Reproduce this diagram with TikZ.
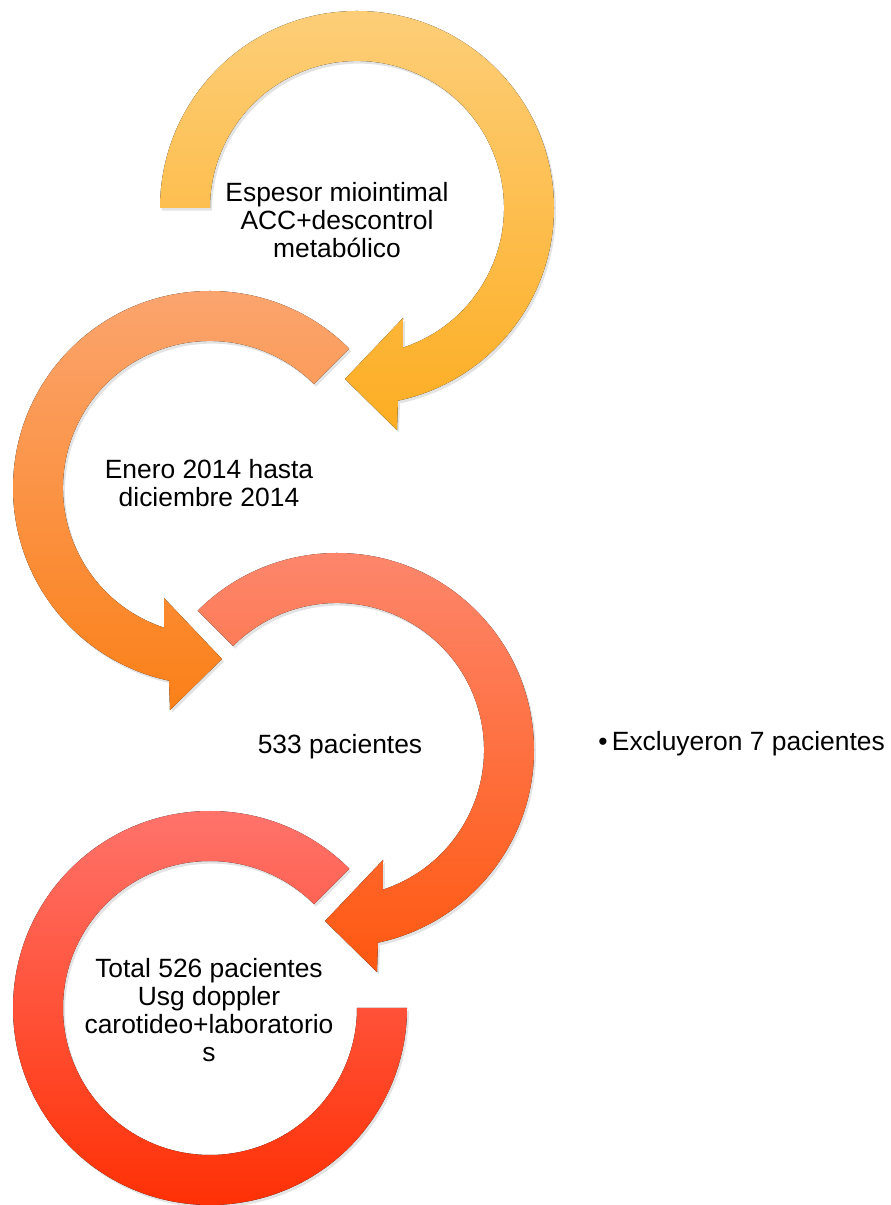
\documentclass[tikz,border=0pt]{standalone}
\usepackage{fontspec}
\setmainfont{Liberation Sans}
\usetikzlibrary{shadows}
\definecolor{aTop}{HTML}{FDCE78}
\definecolor{aBot}{HTML}{FDAD22}
\definecolor{bTop}{HTML}{FBA672}
\definecolor{bBot}{HTML}{FB8018}
\definecolor{cTop}{HTML}{FD8870}
\definecolor{cBot}{HTML}{FF5810}
\definecolor{dTop}{HTML}{FF7670}
\definecolor{dBot}{HTML}{FF2D00}
\begin{document}
\begin{tikzpicture}[x=0.75pt,y=0.75pt,
  lbl/.style={align=center, font=\fontsize{19.8}{21}\selectfont, inner sep=0pt, text=black},
  ring/.style={drop shadow={shadow xshift=1.5pt, shadow yshift=-2pt, opacity=0.22}}]
\useasboundingbox (0,0) rectangle (890,1205);
% ring 1
\begin{scope}[shift={(357,997)}]
\fill[ring, top color=aTop, bottom color=aBot] (180:197) arc[start angle=180,end angle=-78,radius=197]
  -- (40,-222) -- (-12,-171) -- (46,-110) -- (-71.8:147)
  arc[start angle=-71.8,end angle=180,radius=147] -- cycle;
\end{scope}
% ring 2 (mirrored)
\begin{scope}[shift={(210,717)}, xscale=-1]
\fill[ring, top color=bTop, bottom color=bBot] (135:197) arc[start angle=135,end angle=-78,radius=197]
  -- (40,-222) -- (-12,-171) -- (46,-110) -- (-71.8:147)
  arc[start angle=-71.8,end angle=135,radius=147] -- cycle;
\end{scope}
% ring 3
\begin{scope}[shift={(337,455)}]
\fill[ring, top color=cTop, bottom color=cBot] (135:197) arc[start angle=135,end angle=-78,radius=197]
  -- (40,-222) -- (-12,-171) -- (46,-110) -- (-71.8:147)
  arc[start angle=-71.8,end angle=135,radius=147] -- cycle;
\end{scope}
% ring 4
\begin{scope}[shift={(210,197)}]
\fill[ring, top color=dTop, bottom color=dBot] (45:197) arc[start angle=45,end angle=360,radius=197]
  -- (0:147) arc[start angle=360,end angle=45,radius=147] -- cycle;
\end{scope}
% texts
\node[lbl] (t1) at (337,985) {Espesor miointimal\\ACC+descontrol\\metabólico};
\node[lbl] (t2) at (209,722) {Enero 2014 hasta\\diciembre 2014};
\node[lbl] (t3) at (340,458) {533 pacientes};
\node[lbl] (t4) at (209,195) {Total 526 pacientes\\Usg doppler\\carotideo+laboratorio\\s};
\node[lbl, anchor=west] (t5) at (598,461) {•\,Excluyeron 7 pacientes};
\end{tikzpicture}
\end{document}
